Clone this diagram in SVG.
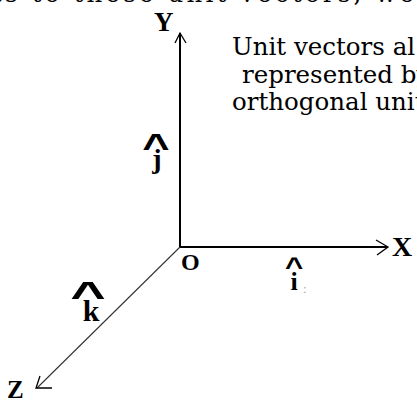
<svg xmlns="http://www.w3.org/2000/svg" width="417" height="401" viewBox="0 0 417 401">
<style>
.body{font-family:"DejaVu Serif","Liberation Serif",serif;font-size:24.5px;fill:#000}
.lbl{font-family:"Liberation Serif",serif;font-weight:bold;fill:#000}
.hat{font-family:"Liberation Sans",sans-serif;font-weight:bold;fill:#000}
.axis{stroke:#000;stroke-width:2;fill:none}
.arrow{stroke:#000;stroke-width:1.3;fill:none}
</style>
<rect width="417" height="401" fill="#fff"/>
<text class="body" x="-8" y="2" textLength="422">ts to these unit vectors, we</text>
<g id="note">
<text class="body" x="232" y="55">Unit vectors al</text>
<text class="body" x="242" y="83">represented by</text>
<text class="body" x="232" y="110">orthogonal unit</text>
</g>
<g id="connectors">
<line class="axis" x1="180" y1="247" x2="180" y2="33"/>
<path class="arrow" d="M175,43 L180,33 L186,43"/>
<line class="axis" x1="179" y1="247" x2="387" y2="247"/>
<path class="arrow" d="M376,240 L388,247 L377,255"/>
<line x1="180" y1="247" x2="37" y2="388" stroke="#333" stroke-width="1.1"/>
<path class="arrow" d="M40,376 L36,388 L52,388"/>
</g>
<g id="axis-y"><text class="lbl" x="154" y="31" font-size="27">Y</text></g>
<g id="axis-x"><text class="lbl" x="392" y="256" font-size="28">X</text></g>
<g id="axis-z"><text class="lbl" x="7" y="398" font-size="25">Z</text></g>
<g id="origin"><text class="lbl" x="181" y="270" font-size="24">O</text></g>
<g id="unit-j">
<text class="hat" font-size="36" text-anchor="middle" transform="translate(156,159) scale(1.3,1)">^</text>
<text class="lbl" x="157" y="168" font-size="28" text-anchor="middle">j</text>
</g>
<g id="unit-i">
<text class="hat" font-size="26" text-anchor="middle" transform="translate(294,276) scale(1.2,1)">^</text>
<text class="lbl" x="294" y="290" font-size="26" text-anchor="middle">i</text>
<text x="303" y="293" font-family="Liberation Serif,serif" font-size="13" fill="#aaa">:</text>
</g>
<g id="unit-k">
<text class="hat" font-size="38" text-anchor="middle" transform="translate(88,309) scale(1.6,1)">^</text>
<text class="lbl" x="91" y="321" font-size="30" text-anchor="middle">k</text>
</g>
</svg>
